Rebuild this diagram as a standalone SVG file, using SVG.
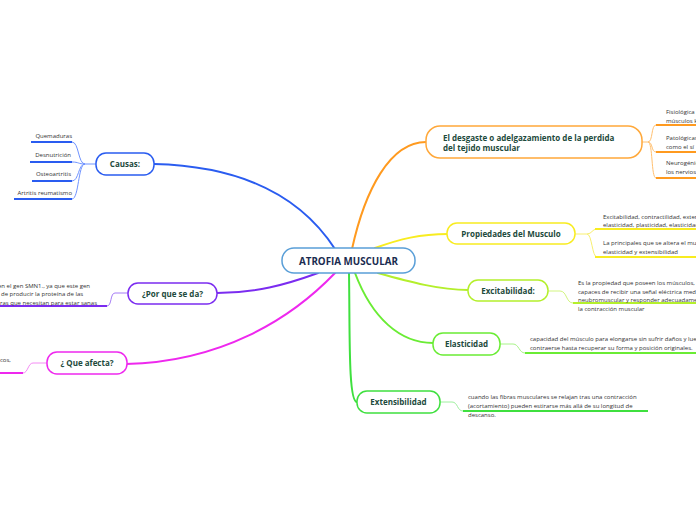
<svg xmlns="http://www.w3.org/2000/svg" width="696" height="520" viewBox="0 0 696 520">
<style>
.bg{fill:#ffffff}
.node{fill:#ffffff;stroke-width:1.5}
.lbl{font-family:"Open Sans","Noto Sans","DejaVu Sans",sans-serif;font-weight:bold;font-size:8px;fill:#1d4a3c}
.main{font-family:"Open Sans","Noto Sans","DejaVu Sans",sans-serif;font-weight:bold;font-size:9.8px;fill:#1a2b50}
.leaf{font-family:"Open Sans","Noto Sans","DejaVu Sans",sans-serif;font-size:6px;fill:#333333}
.c{fill:none;stroke-width:2;stroke-linecap:round}
.t{fill:none;stroke-width:1}
.u{fill:none;stroke-width:2}
</style>
<rect class="bg" x="0" y="0" width="696" height="520"/>
<g id="connectors">
  <path class="c" stroke="#2a5cf0" d="M335,249 C300,195 240,166 154,164"/>
  <path class="c" stroke="#ff9a1f" d="M352,249 C365,190 390,142 426,142"/>
  <path class="c" stroke="#f8ec20" d="M375,248 C400,239 420,234 448,234"/>
  <path class="c" stroke="#b4ef2c" d="M378,273 C410,282 440,290 468,290"/>
  <path class="c" stroke="#6aec34" d="M355,273 C372,318 400,343 433,343"/>
  <path class="c" stroke="#3fe03f" d="M349,273 C350,330 348,402 357,402"/>
  <path class="c" stroke="#7b2cf0" d="M318,273 C285,285 255,293 217,293"/>
  <path class="c" stroke="#ee28ee" d="M335,273 C290,320 220,362 126,364"/>
  <g stroke="#6f93ff">
    <path class="t" d="M96,164 L85,164"/>
    <path class="t" d="M85,164 C78,164 79,142 72,142"/>
    <path class="t" d="M85,164 C78,164 79,162 72,162"/>
    <path class="t" d="M85,164 C78,164 79,181 72,181"/>
    <path class="t" d="M85,164 C78,164 79,199 72,199"/>
  </g>
  <g stroke="#2a5cf0">
    <path class="u" d="M31,142 L72,142"/>
    <path class="u" d="M30,162 L72,162"/>
    <path class="u" d="M32,181 L72,181"/>
    <path class="u" d="M14,199 L72,199"/>
  </g>
  <path class="t" stroke="#a57cf5" d="M128,293 L115,293 C110,293 112,306 107,306"/>
  <path class="u" stroke="#7b2cf0" d="M0,306 L107,306"/>
  <path class="t" stroke="#f48cf4" d="M47,363 L33,363 C28,363 28,373 23,373"/>
  <path class="u" stroke="#ee28ee" d="M0,373 L23,373"/>
  <g stroke="#ffc070">
    <path class="t" d="M642,142 L648,142"/>
    <path class="t" d="M648,142 C653,142 651,125 656,125"/>
    <path class="t" d="M648,142 C653,142 651,152 656,152"/>
    <path class="t" d="M648,142 C653,142 651,178 656,178"/>
  </g>
  <g stroke="#ff9a1f">
    <path class="u" d="M656,125 L696,125"/>
    <path class="u" d="M656,152 L696,152"/>
    <path class="u" d="M656,178 L696,178"/>
  </g>
  <g stroke="#f8ef70">
    <path class="t" d="M575,234 L587,234"/>
    <path class="t" d="M587,234 C592,234 592,229 597,229"/>
    <path class="t" d="M587,234 C592,234 592,257 597,257"/>
  </g>
  <g stroke="#f8ec20">
    <path class="u" d="M595,229 L696,229"/>
    <path class="u" d="M595,257 L696,257"/>
  </g>
  <path class="t" stroke="#d2f580" d="M548,291 L560,291 C567,291 566,303 573,303"/>
  <path class="u" stroke="#b4ef2c" d="M573,303 L696,303"/>
  <path class="t" stroke="#a8f488" d="M500,344 L513,344 C519,344 519,353 525,353"/>
  <path class="u" stroke="#6aec34" d="M525,353 L696,353"/>
  <path class="t" stroke="#9ef09e" d="M440,402 L452,402 C458,402 457,411 463,411"/>
  <path class="u" stroke="#3fe03f" d="M463,411 L648,411"/>
</g>

<g id="n-root">
  <rect class="node" x="282" y="248" width="133" height="25" rx="12" stroke="#5a9fd8"/>
  <text class="main" x="348.5" y="264.5" text-anchor="middle">ATROFIA MUSCULAR</text>
</g>
<g id="n-desgaste">
  <rect class="node" x="426" y="126" width="216" height="32" rx="14" stroke="#ffa83a"/>
  <text class="lbl" x="443" y="141">El desgaste o adelgazamiento de la perdida</text>
  <text class="lbl" x="443" y="151">del tejido muscular</text>
</g>
<g id="n-propiedades">
  <rect class="node" x="447" y="223" width="128" height="21" rx="10" stroke="#f8ec20"/>
  <text class="lbl" x="511" y="237" text-anchor="middle">Propiedades del Musculo</text>
</g>
<g id="n-excitabilidad">
  <rect class="node" x="468" y="280" width="80" height="21" rx="10" stroke="#b4ef2c"/>
  <text class="lbl" x="508" y="294" text-anchor="middle">Excitabilidad:</text>
</g>
<g id="n-elasticidad">
  <rect class="node" x="433" y="333" width="67" height="22" rx="10" stroke="#6aec34"/>
  <text class="lbl" x="466.5" y="347" text-anchor="middle">Elasticidad</text>
</g>
<g id="n-extensibilidad">
  <rect class="node" x="357" y="391" width="83" height="22" rx="10" stroke="#3fe03f"/>
  <text class="lbl" x="398.5" y="405" text-anchor="middle">Extensibilidad</text>
</g>
<g id="n-causas">
  <rect class="node" x="96" y="153" width="58" height="22" rx="10" stroke="#2a5cf0"/>
  <text class="lbl" x="125" y="167" text-anchor="middle">Causas:</text>
</g>
<g id="n-porque">
  <rect class="node" x="128" y="283" width="89" height="21" rx="10" stroke="#7b2cf0"/>
  <text class="lbl" x="172.5" y="297" text-anchor="middle">¿Por que se da?</text>
</g>
<g id="n-queafecta">
  <rect class="node" x="47" y="352" width="80" height="22" rx="10" stroke="#ee28ee"/>
  <text class="lbl" x="87" y="366" text-anchor="middle">¿ Que afecta?</text>
</g>

<g id="leaves-causas">
  <text class="leaf" x="72" y="138" text-anchor="end">Quemaduras</text>
  <text class="leaf" x="71" y="157" text-anchor="end">Desnutrición</text>
  <text class="leaf" x="71" y="176" text-anchor="end">Osteoartritis</text>
  <text class="leaf" x="72" y="195" text-anchor="end">Artritis reumatismo</text>
</g>
<g id="leaf-porque">
  <text class="leaf" x="-2" y="288">en el gen SMN1., ya que este  gen</text>
  <text class="leaf" x="1" y="296">de producir la proteína de las</text>
  <text class="leaf" x="0" y="305">ras que necesitan para estar sanas</text>
</g>
<g id="leaf-queafecta">
  <text class="leaf" x="0" y="362">cos,</text>
</g>
<g id="leaves-desgaste">
  <text class="leaf" x="666" y="114">Fisiológica</text>
  <text class="leaf" x="666" y="123">músculos k</text>
  <text class="leaf" x="666" y="140">Patológicas</text>
  <text class="leaf" x="666" y="149">como el sí</text>
  <text class="leaf" x="666" y="165">Neurogénic</text>
  <text class="leaf" x="666" y="174">los nervios</text>
</g>
<g id="leaves-propiedades">
  <text class="leaf" x="603" y="219">Excitabilidad, contractilidad, exter</text>
  <text class="leaf" x="603" y="227">elasticidad, plasticidad, elasticidad</text>
  <text class="leaf" x="603" y="245">La principales que se altera el mu</text>
  <text class="leaf" x="603" y="254">elasticidad y extensibilidad</text>
</g>
<g id="leaf-excitabilidad">
  <text class="leaf" x="578" y="285">Es la propiedad que poseen los músculos, c</text>
  <text class="leaf" x="578" y="293.5">capaces de recibir una señal eléctrica med</text>
  <text class="leaf" x="578" y="302">neubromuscular y responder adecuadame</text>
  <text class="leaf" x="578" y="310.5">la contracción muscular</text>
</g>
<g id="leaf-elasticidad">
  <text class="leaf" x="530" y="341">capacidad del músculo para elongarse sin sufrir daños y lue</text>
  <text class="leaf" x="530" y="350">contraerse hasta recuperar su forma y posición originales.</text>
</g>
<g id="leaf-extensibilidad">
  <text class="leaf" x="468" y="399">cuando las fibras musculares se relajan tras una contracción</text>
  <text class="leaf" x="468" y="408">(acortamiento) pueden estirarse más allá de su longitud de</text>
  <text class="leaf" x="468" y="416.5">descanso.</text>
</g>
</svg>
